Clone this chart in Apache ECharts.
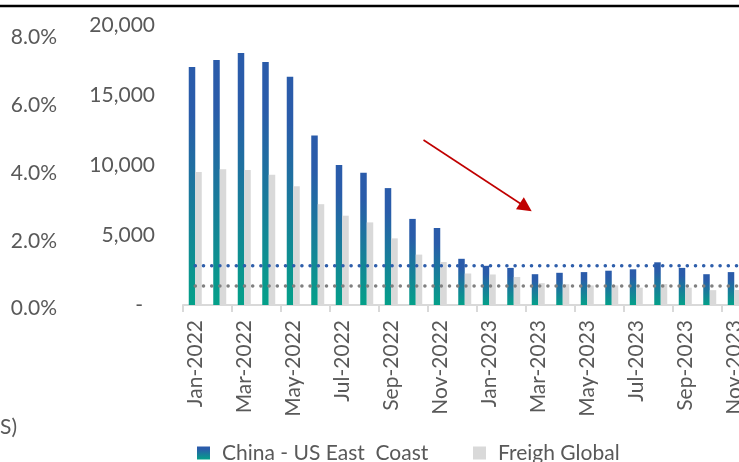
<!DOCTYPE html>
<html>
<head>
<meta charset="utf-8">
<script src="https://cdn.jsdelivr.net/npm/echarts@6/dist/echarts.min.js"></script>
<style>
  html, body { margin: 0; padding: 0; background: #ffffff; }
  #chart { width: 739px; height: 462px; }
</style>
</head>
<body>
<div id="chart"></div>
<script>
// Monthly spot rates, USD per FEU
const categories = [
  'Jan-2022', 'Feb-2022', 'Mar-2022', 'Apr-2022', 'May-2022', 'Jun-2022',
  'Jul-2022', 'Aug-2022', 'Sep-2022', 'Oct-2022', 'Nov-2022', 'Dec-2022',
  'Jan-2023', 'Feb-2023', 'Mar-2023', 'Apr-2023', 'May-2023', 'Jun-2023',
  'Jul-2023', 'Aug-2023', 'Sep-2023', 'Oct-2023', 'Nov-2023', 'Dec-2023'
];
const chinaUsEastCoast = [
  17000, 17500, 18000, 17350, 16300, 12100,
  10000, 9450, 8350, 6150, 5500, 3300,
  2800, 2650, 2200, 2300, 2350, 2450,
  2550, 3050, 2650, 2200, 2350, null
];
const freighGlobal = [
  9500, 9700, 9650, 9300, 8480, 7200,
  6380, 5900, 4760, 3600, 3070, 2250,
  2180, 2000, 1560, 1480, 1400, 1400,
  1240, 1500, 1240, 1060, 1070, null
];
// Long-run benchmark levels drawn as dotted lines
const chinaUsEastCoastBenchmark = 2800;
const freighGlobalBenchmark = 1360;

// Left-hand percentage scale
const pctMin = 0, pctMax = 8, pctStep = 2;
// Rate scale
const rateMin = 0, rateMax = 20000, rateStep = 5000;

const FONT = 'Lato';
const TEXT = '#595959';
const SIZE = 21;

const blueFill = new echarts.graphic.LinearGradient(0, 0, 0, 1, [
  { offset: 0, color: '#2a5baa' },
  { offset: 0.2, color: '#2a5caa' },
  { offset: 1, color: '#04a089' }
]);

function thousands(v) {
  return String(v).replace(/\B(?=(\d{3})+(?!\d))/g, ',');
}

const legendText = { color: TEXT, fontFamily: FONT, fontSize: SIZE, padding: [0, 0, 0, 7] };

const chart = echarts.init(document.getElementById('chart'), null, { renderer: 'canvas' });

chart.setOption({
  animation: false,
  backgroundColor: '#ffffff',
  textStyle: { fontFamily: FONT },
  grid: [
    { left: 183, top: 25, width: 588, height: 280, outerBoundsMode: 'none' },
    { left: 70, top: 37.5, width: 1, height: 271, outerBoundsMode: 'none' }
  ],
  xAxis: [
    {
      type: 'category',
      gridIndex: 0,
      data: categories,
      axisLine: { lineStyle: { color: '#d9d9d9', width: 2 } },
      axisTick: { show: true, interval: 1, length: 7, lineStyle: { color: '#d9d9d9', width: 2 } },
      axisLabel: {
        interval: 1,
        rotate: 90,
        margin: 15,
        color: TEXT,
        fontFamily: FONT,
        fontSize: SIZE
      }
    },
    { type: 'value', gridIndex: 1, show: false }
  ],
  yAxis: [
    {
      type: 'value',
      gridIndex: 0,
      min: rateMin,
      max: rateMax,
      interval: rateStep,
      axisLine: { show: false },
      axisTick: { show: false },
      splitLine: { show: false },
      axisLabel: {
        margin: 28,
        color: TEXT,
        fontFamily: FONT,
        fontSize: SIZE,
        formatter: v => (v === 0 ? '{dash|-}' : thousands(v)),
        rich: { dash: { color: TEXT, fontFamily: FONT, fontSize: SIZE, padding: [0, 12, 0, 0] } }
      }
    },
    {
      type: 'value',
      gridIndex: 1,
      min: pctMin,
      max: pctMax,
      interval: pctStep,
      axisLine: { show: false },
      axisTick: { show: false },
      splitLine: { show: false },
      axisLabel: {
        margin: 13,
        color: TEXT,
        fontFamily: FONT,
        fontSize: SIZE,
        formatter: v => v.toFixed(1) + '%'
      }
    }
  ],
  legend: [
    {
      data: ['China - US East  Coast'],
      left: 197, top: 442.5, padding: 0,
      icon: 'rect', itemWidth: 13, itemHeight: 13,
      textStyle: legendText
    },
    {
      data: ['Freigh Global'],
      left: 473, top: 442.5, padding: 0,
      icon: 'rect', itemWidth: 13, itemHeight: 13,
      textStyle: legendText
    }
  ],
  series: [
    {
      name: 'China - US East  Coast',
      type: 'bar',
      xAxisIndex: 0, yAxisIndex: 0,
      data: chinaUsEastCoast,
      barWidth: 6.5,
      barGap: '0%',
      itemStyle: { color: blueFill },
      z: 2
    },
    {
      name: 'Freigh Global',
      type: 'bar',
      xAxisIndex: 0, yAxisIndex: 0,
      data: freighGlobal,
      barWidth: 6.5,
      barGap: '0%',
      itemStyle: { color: '#d9d9d9' },
      z: 2
    },
    {
      name: 'China - US East Coast benchmark',
      type: 'line',
      xAxisIndex: 0, yAxisIndex: 0,
      data: categories.map(() => chinaUsEastCoastBenchmark),
      symbol: 'none',
      silent: true,
      lineStyle: { color: '#2e5eab', width: 3.5, type: [0.1, 8.1], cap: 'round' },
      z: 5
    },
    {
      name: 'Freigh Global benchmark',
      type: 'line',
      xAxisIndex: 0, yAxisIndex: 0,
      data: categories.map(() => freighGlobalBenchmark),
      symbol: 'none',
      silent: true,
      lineStyle: { color: '#808080', width: 3.5, type: [0.1, 8.1], cap: 'round' },
      z: 5
    }
  ],
  graphic: [
    // rule across the top of the panel
    {
      type: 'line',
      shape: { x1: 0, y1: 6, x2: 739, y2: 6 },
      style: { stroke: '#000000', lineWidth: 2.5 },
      silent: true
    },
    // downward trend arrow
    {
      type: 'line',
      shape: { x1: 423.5, y1: 140, x2: 521, y2: 204 },
      style: { stroke: '#c00000', lineWidth: 1.6 },
      silent: true
    },
    {
      type: 'polygon',
      shape: { points: [[531.7, 211.2], [516, 209.3], [523.8, 197.3]] },
      style: { fill: '#c00000' },
      silent: true
    },
    // tail of the axis caption
    {
      type: 'text',
      left: 0, top: 417,
      style: { text: 'S)', fill: TEXT, font: SIZE + 'px ' + FONT }
    }
  ]
});
</script>
</body>
</html>
